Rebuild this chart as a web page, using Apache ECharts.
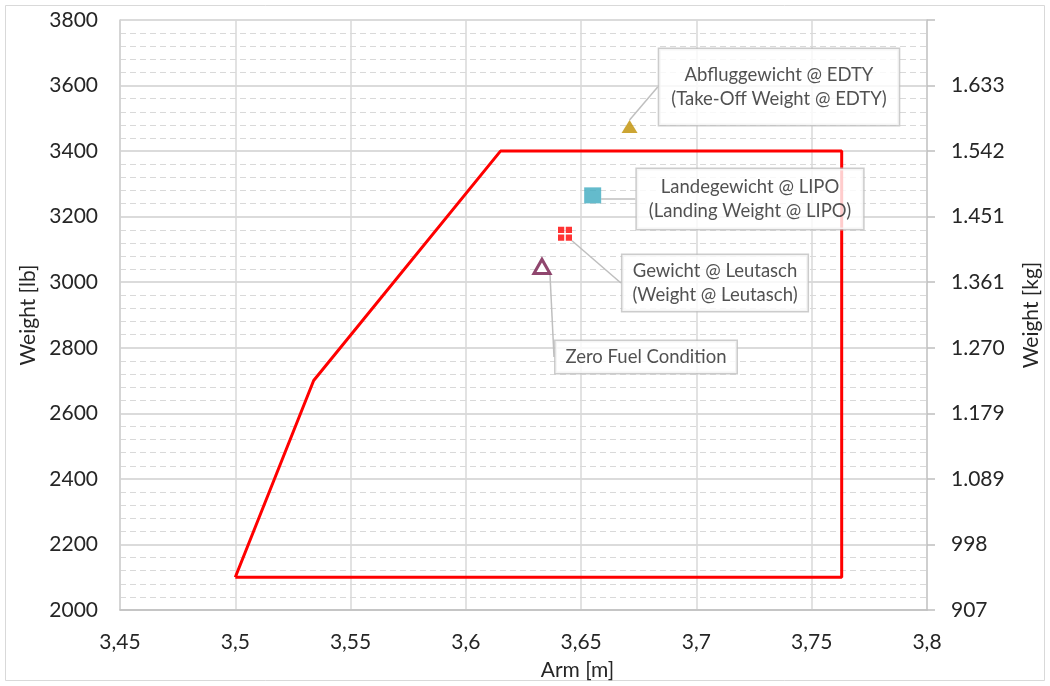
<!DOCTYPE html>
<html>
<head>
<meta charset="utf-8">
<script src="https://cdn.jsdelivr.net/npm/echarts@6/dist/echarts.min.js"></script>
<style>
html,body{margin:0;padding:0;background:#fff;overflow:hidden;}
#chart{width:1050px;height:686px;}
</style>
</head>
<body>
<div id="chart"></div>
<script>
// Envelope (weight & balance limits)
var envArm    = [3.500, 3.534, 3.615, 3.763, 3.763, 3.500];
var envWeight = [2100, 2700, 3400, 3400, 2100, 2100];

// Condition points
var pointNames  = ['Abfluggewicht @ EDTY\n(Take-Off Weight @ EDTY)',
                   'Landegewicht @ LIPO\n(Landing Weight @ LIPO)',
                   'Gewicht @ Leutasch\n(Weight @ Leutasch)',
                   'Zero Fuel Condition'];
var pointArm    = [3.671, 3.655, 3.643, 3.633];
var pointWeight = [3475, 3265, 3148, 3048];

// Tick labels
var xTickLabels  = ['3,45','3,5','3,55','3,6','3,65','3,7','3,75','3,8'];
var lbTickLabels = ['2000','2200','2400','2600','2800','3000','3200','3400','3600','3800'];
var kgTickLabels = ['907','998','1.089','1.179','1.270','1.361','1.451','1.542','1.633',''];

var FONT = 'Lato';
var TXT = '#262626';

var chart = echarts.init(document.getElementById('chart'));

var labelCfg = [
  {x: 779, y: 87,  padding: [14, 12]},
  {x: 750, y: 199, padding: [6, 12]},
  {x: 715, y: 283, padding: [4, 10]},
  {x: 646, y: 357, padding: [4, 10]}
];
var symbols = [
  {symbol: 'triangle', size: [16, 13], style: {color: '#BF8F00'}},
  {symbol: 'rect', size: [17, 16], style: {color: '#3DAABF'}},
  {symbol: 'path://M0,0h4v4h-4z M5,0h4v4h-4z M0,5h4v4h-4z M5,5h4v4h-4z', size: [14, 14], style: {color: '#FF0000'}},
  {symbol: 'triangle', size: [16, 14], style: {color: '#ffffff', borderColor: '#74184A', borderWidth: 3}}
];

var pointSeries = pointNames.map(function (nm, i) {
  return {
    type: 'scatter',
    name: 'p' + i,
    z: 5,
    symbol: symbols[i].symbol,
    symbolSize: symbols[i].size,
    itemStyle: symbols[i].style,
    data: [{value: [pointArm[i], pointWeight[i]], name: nm}],
    label: {
      show: true,
      formatter: '{b}',
      fontFamily: FONT,
      fontSize: 18.5,
      lineHeight: 24,
      color: TXT,
      align: 'center',
      backgroundColor: '#ffffff',
      borderColor: '#BFBFBF',
      borderWidth: 1.5,
      padding: labelCfg[i].padding
    },
    labelLine: {show: true, lineStyle: {color: '#BFBFBF', width: 1.5}},
    labelLayout: (function (c) {
      return function () {
        return {x: c.x, y: c.y, align: 'center', verticalAlign: 'middle'};
      };
    })(labelCfg[i])
  };
});

var option = {
  backgroundColor: '#ffffff',
  animation: false,
  graphic: [{
    type: 'rect', shape: {x: 5.5, y: 5.5, width: 1039, height: 675},
    style: {fill: 'none', stroke: '#D9D9D9', lineWidth: 1}, silent: true, z: -10
  }],
  grid: {left: 120, right: 122, top: 20, bottom: 72, containLabel: false},
  xAxis: {
    type: 'value', min: 3.45, max: 3.8, interval: 0.05,
    name: 'Arm [m]', nameLocation: 'middle', nameGap: 50,
    nameTextStyle: {fontFamily: FONT, fontSize: 21, color: TXT, padding: [0, 0, 0, 108]},
    axisLine: {show: true, lineStyle: {color: '#BFBFBF', width: 1.5}},
    axisTick: {show: false},
    axisLabel: {
      fontFamily: FONT, fontSize: 21, color: TXT, margin: 22,
      formatter: function (v) { return xTickLabels[Math.round((v - 3.45) / 0.05)]; }
    },
    splitLine: {show: true, lineStyle: {color: '#D9D9D9', width: 1.5}}
  },
  yAxis: [{
    type: 'value', min: 2000, max: 3800, interval: 200, position: 'left',
    name: 'Weight [lb]', nameLocation: 'middle', nameGap: 80, nameRotate: 90,
    nameTextStyle: {fontFamily: FONT, fontSize: 21, color: TXT},
    axisLine: {show: true, lineStyle: {color: '#D0D0D0', width: 1.5}},
    axisTick: {show: false},
    axisLabel: {
      fontFamily: FONT, fontSize: 21, color: TXT, margin: 22,
      formatter: function (v) { return lbTickLabels[Math.round((v - 2000) / 200)]; }
    },
    splitLine: {show: true, lineStyle: {color: '#CFCFCF', width: 1.5}},
    minorTick: {show: false, splitNumber: 5},
    minorSplitLine: {show: true, lineStyle: {color: '#D9D9D9', width: 1.2, type: [6, 4]}}
  }, {
    type: 'value', min: 2000, max: 3800, interval: 200, position: 'right',
    name: 'Weight [kg]', nameLocation: 'middle', nameGap: 94, nameRotate: 90,
    nameTextStyle: {fontFamily: FONT, fontSize: 21, color: TXT},
    axisLine: {show: true, lineStyle: {color: '#C8C8C8', width: 1.5}},
    axisTick: {show: true, length: 8, lineStyle: {color: '#BFBFBF', width: 1.5}},
    axisLabel: {
      fontFamily: FONT, fontSize: 21, color: TXT, margin: 24,
      formatter: function (v) { return kgTickLabels[Math.round((v - 2000) / 200)]; }
    },
    splitLine: {show: false}
  }],
  series: [{
    type: 'line',
    name: 'Envelope',
    z: 3,
    symbol: 'none',
    lineStyle: {color: '#FF0000', width: 3},
    data: envArm.map(function (a, i) { return [a, envWeight[i]]; })
  }].concat(pointSeries)
};

chart.setOption(option);
</script>
</body>
</html>
